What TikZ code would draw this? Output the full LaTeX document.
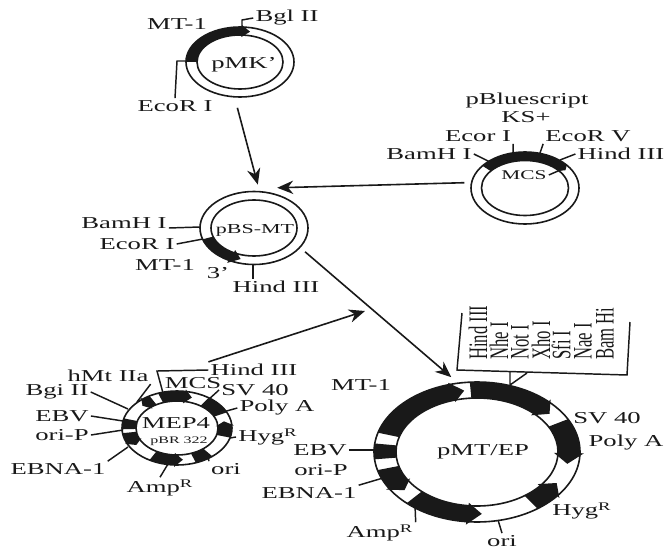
\documentclass[tikz,border=0pt]{standalone}
\usepackage{fontspec}
\usepackage{graphicx}
\setmainfont{Liberation Serif}
\usetikzlibrary{shapes.geometric,arrows.meta}
\definecolor{ink}{gray}{0.1}
\tikzset{
  x=0.75pt,y=-0.75pt,
  every node/.style={text=ink},
  lab/.style={inner sep=1.5pt,font=\fontsize{12.5}{14}\selectfont},
  tick/.style={draw=ink,line width=1.1pt},
  conn/.style={draw=ink,line width=1.2pt,-{Stealth[length=12pt,width=10pt]}},
  ringline/.style={ellipse,draw=ink,line width=1.2pt,inner sep=0pt,fill=none},
}
\newcounter{tk}
\newcommand\St[1]{\scalebox{1.6}[1]{#1}}
\newcommand\lab[4]{\node[lab] (#1) at (#2,#3) {\St{#4}};}
\newcommand\tick[2]{\stepcounter{tk}\coordinate (t\thetk) at (#2);\draw[tick] (#1) -- (t\thetk);}
% ring: name, cx, cy, Rx, Ry, rx, ry, halo
\newcommand\ring[8]{%
  \def\Cx{#2}\def\Cy{#3}\def\Rx{#4}\def\Ry{#5}\def\rx{#6}\def\ry{#7}%
  \node[ringline,outer sep=#8*0.75pt,minimum width={2*#4*0.75pt},minimum height={2*#5*0.75pt}] (#1) at (#2,#3) {};
  \node[ringline,minimum width={2*#6*0.75pt},minimum height={2*#7*0.75pt}] (#1in) at (#2,#3) {};
}
\newcommand\seg[2]{%
  \fill[ink] plot[smooth,domain=#1:#2,samples=16] ({\Cx+\Rx*cos(\x)},{\Cy+\Ry*sin(\x)})
   -- plot[smooth,domain=#2:#1,samples=16] ({\Cx+\rx*cos(\x)},{\Cy+\ry*sin(\x)}) -- cycle;}
% arrow seg: a1, a2 (tip), head angle signed, overhang
\newcommand\aseg[4]{%
  \pgfmathsetmacro\bb{#2-(#3)}%
  \pgfmathsetmacro\Mx{(\Rx+\rx)/2}\pgfmathsetmacro\My{(\Ry+\ry)/2}%
  \fill[ink] plot[smooth,domain=#1:\bb,samples=16] ({\Cx+\Rx*cos(\x)},{\Cy+\Ry*sin(\x)})
   -- ({\Cx+(\Rx+#4)*cos(\bb)},{\Cy+(\Ry+#4)*sin(\bb)})
   -- ({\Cx+\Mx*cos(#2)},{\Cy+\My*sin(#2)})
   -- ({\Cx+(\rx-#4)*cos(\bb)},{\Cy+(\ry-#4)*sin(\bb)})
   -- plot[smooth,domain=\bb:#1,samples=16] ({\Cx+\rx*cos(\x)},{\Cy+\ry*sin(\x)}) -- cycle;}
\newcommand\rot[4]{\node[lab,anchor=south] (#1) at (#2,#3) {\St{\rotatebox{90}{#4}}};}
\begin{document}
\begin{tikzpicture}
\useasboundingbox (0,0) rectangle (667,549);
% ---------- pMK'
\ring{pMK}{240}{62}{54}{35}{43}{27}{7}
\aseg{180}{282}{10}{2}
\node[lab] (pMKt) at (244,65) {\St{pMK'}};
\lab{mkMT}{177}{24}{MT-1}
\lab{mkBgl}{287}{18}{Bgl II}
\lab{mkEco}{175}{106}{EcoR I}
\coordinate (mkB1) at (242,31);\coordinate (mkB2) at (242,20);
\draw[tick] (mkB1) -- (mkB2) -- (mkBgl.west);
\coordinate (mkE1) at (188,61);\coordinate (mkE2) at (177,61);
\draw[tick] (mkE1) -- (mkE2) -- (mkEco.north);
% ---------- pBS-MT
\ring{pBS}{254}{228}{54}{36.5}{43}{28}{7}
\aseg{162}{106}{-12}{3}
\node[lab,font=\fontsize{10.3}{12}\selectfont] (pBSt) at (255,230) {\St{pBS-MT}};
\lab{bsBam}{124}{223}{BamH I}
\lab{bsEco}{137}{244}{EcoR I}
\lab{bsMT}{165}{265}{MT-1}
\lab{bsThree}{218}{273}{3'}
\lab{bsHind}{276}{287}{Hind III}
\tick{bsBam.east|-pBS.west}{200,227}
\tick{bsEco.east}{203,239}
\tick{bsHind.north -| 253,0}{253,265}
% ---------- pBluescript
\ring{pBlue}{525}{188}{54}{36}{43.5}{27.5}{7}
\aseg{218}{326}{6}{1}
\lab{blName}{527}{100}{pBluescript}
\lab{blKS}{526}{117}{KS+}
\lab{blEcoI}{478}{136}{Ecor I}
\lab{blEcoV}{588}{136}{EcoR V}
\lab{blBam}{429}{154}{BamH I}
\lab{blHind}{621}{154}{Hind III}
\node[lab,font=\fontsize{10}{12}\selectfont] (blMCS) at (524,175) {\St{MCS}};
\tick{blBam.east}{492,163}
\tick{blEcoI.south east}{513,153}
\tick{blEcoV.south west}{540,153}
\tick{blHind.west}{560,160}
\tick{blMCS.east}{565,168}
% ---------- MEP4
\ring{MEP}{177}{428}{55}{37}{41}{27}{7}
\aseg{240}{224}{-7}{2}
\aseg{250}{288}{9}{2}
\seg{305}{335}
\aseg{375}{348}{-8}{2}
\seg{50}{70}
\aseg{120}{83}{-10}{2}
\aseg{172}{148}{-8}{2}
\seg{178}{195}
\lab{mMEP}{176}{423}{MEP4}
\node[lab,font=\fontsize{7.5}{9}\selectfont] (mBR) at (179,441) {\St{pBR 322}};
\lab{mHind}{254}{370}{Hind III}
\lab{mHMt}{108}{376}{hMt IIa}
\lab{mMCS}{193}{383}{MCS}
\lab{mBgi}{57}{392}{Bgi II}
\lab{mSV}{255}{390}{SV 40}
\lab{mPoly}{277}{408}{Poly A}
\lab{mEBV}{62}{416}{EBV}
\lab{mOri}{62}{435}{ori-P}
\lab{mHyg}{268}{437}{Hyg\textsuperscript{R}}
\lab{mEBNA}{58}{469}{EBNA-1}
\lab{mOr}{226}{469}{ori}
\lab{mAmp}{160}{488}{Amp\textsuperscript{R}}
\coordinate (mb1) at (157,371);\coordinate (mb2) at (163,393);
\draw[tick] (mHind.west) -- (mb1) -- (mb2);
\tick{mHMt.south east}{137,402}
\tick{mBgi.east}{128,409}
\tick{mEBV.east}{123,421}
\tick{mOri.east}{123,430}
\tick{mEBNA.north east}{128,447}
\tick{mAmp.north}{168,464}
\tick{mOr.north west}{208,457}
\tick{mHyg.west}{230,438}
\tick{mPoly.west}{223,412}
\tick{mSV.west}{208,400}
% ---------- pMT/EP
\ring{pMT}{477}{452}{103}{70}{81}{54}{7}
\aseg{196}{262}{8}{2}
\aseg{266}{322}{8}{3}
\aseg{332}{371}{10}{4}
\aseg{54}{30}{-9}{3}
\aseg{133}{87}{-9}{3}
\aseg{165}{142}{-7}{3}
\seg{174}{187}
\node[lab] (pMTt) at (483,452) {\St{pMT/EP}};
\lab{pMT1}{361}{385}{MT-1}
\lab{pSV}{607}{418}{SV 40}
\lab{pPoly}{626}{443}{Poly A}
\lab{pEBV}{320}{450}{EBV}
\lab{pOriP}{321}{470}{ori-P}
\lab{pEBNA}{309}{493}{EBNA-1}
\lab{pHyg}{582}{511}{Hyg\textsuperscript{R}}
\lab{pAmp}{380}{533}{Amp\textsuperscript{R}}
\lab{pOri}{502}{541}{ori}
\tick{pEBV.east}{375,450}
\tick{pEBNA.north east}{383,478}
\tick{pAmp.north east}{415,505}
\tick{pOri.north}{498,520}
\rot{sHind}{478}{362}{Hind III}
\rot{sNhe}{499}{362}{Nhe I}
\rot{sNot}{520}{362}{Not I}
\rot{sXho}{541}{362}{Xho I}
\rot{sSfi}{561}{362}{Sfi I}
\rot{sNae}{583}{362}{Nae I}
\rot{sBam}{605}{362}{Bam Hi}
\coordinate (br1) at (462,313);\coordinate (br2) at (457,370);\coordinate (br3) at (627,375);\coordinate (br4) at (630,322);
\draw[tick] (br1) -- (br2) -- (br3) -- (br4);
\coordinate (br5) at (510,372);\coordinate (br6) at (510,385);\coordinate (br7) at (527,373);
\draw[tick] (br5) -- (br6) -- (br7);
% ---------- main arrows
\coordinate (a4end) at (365,311);
\draw[conn,shorten <=3pt] (pMK.-95) -- (pBS.85);
\draw[conn] (pBlue.175) -- (pBS.60);
\draw[conn] (pBS.-25) -- (pMT.109);
\draw[conn] (mHind.north west) -- (a4end);
\end{tikzpicture}
\end{document}
